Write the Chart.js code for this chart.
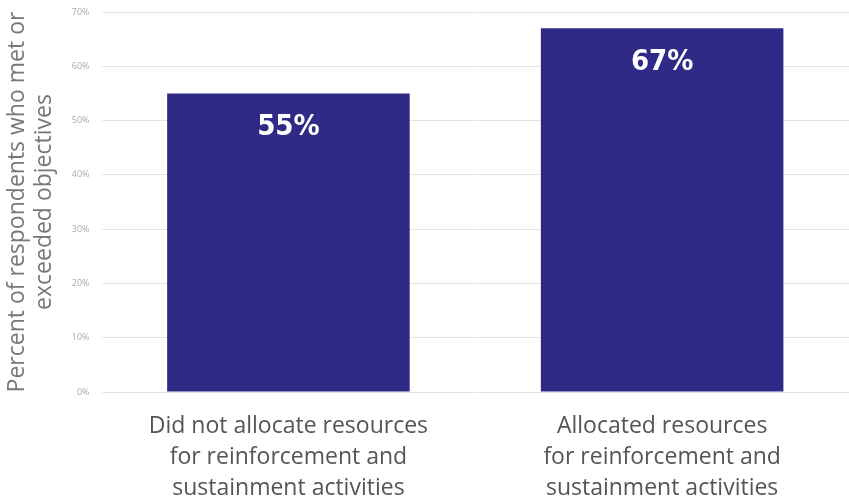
<!DOCTYPE html>
<html>
<head>
<meta charset="utf-8">
<script src="https://cdn.jsdelivr.net/npm/chart.js@4"></script>
<style>
  body { margin: 0; background: #fff; }
  .wrap { width: 849px; height: 502px; }
</style>
</head>
<body>
<div class="wrap"><canvas id="myChart"></canvas></div>
<script>
const categories = [
  ["Did not allocate resources", "for reinforcement and", "sustainment activities"],
  ["Allocated resources", "for reinforcement and", "sustainment activities"],
];
const values = [55, 67];
const yTitle = ["Percent of respondents who met or", "exceeded objectives"];

// white labels inside the top of each bar
const barLabels = {
  id: "barLabels",
  afterDatasetsDraw(chart) {
    const ctx = chart.ctx;
    const meta = chart.getDatasetMeta(0);
    ctx.save();
    ctx.fillStyle = "#fff";
    ctx.font = "bold 29px 'DejaVu Sans Condensed', 'DejaVu Sans'";
    ctx.textAlign = "center";
    ctx.textBaseline = "middle";
    meta.data.forEach((bar, i) => {
      ctx.fillText(values[i] + "%", bar.x, bar.y + 34);
    });
    ctx.restore();
  },
};

const chartElement = document.getElementById("myChart");
const myChart = new Chart(chartElement, {
  type: "bar",
  data: {
    labels: categories,
    datasets: [
      {
        data: values,
        backgroundColor: "#2f2a85",
        categoryPercentage: 1,
        barPercentage: 0.649,
      },
    ],
  },
  options: {
    responsive: true,
    maintainAspectRatio: false,
    animation: false,
    layout: { padding: { left: 4, right: 0, top: 12, bottom: 0 } },
    plugins: {
      legend: { display: false },
      tooltip: { enabled: false },
    },
    scales: {
      x: {
        grid: { display: false },
        border: { display: false },
        afterFit: (axis) => {
          axis.height = 110;
        },
        ticks: {
          color: "#555",
          font: { family: "'Open Sans'", size: 23, lineHeight: 1.35 },
          padding: 11,
          maxRotation: 0,
        },
      },
      y: {
        min: 0,
        max: 70,
        border: { display: false },
        grid: { color: "#e4e4e4", drawTicks: false },
        afterFit: (axis) => {
          axis.paddingTop = 0;
        },
        ticks: {
          stepSize: 10,
          color: "#aaa",
          font: { family: "'Open Sans'", size: 9 },
          padding: 12,
          callback: (v) => v + "%",
        },
        title: {
          display: true,
          text: yTitle,
          color: "#777",
          font: { family: "'Open Sans'", size: 23, lineHeight: 1.17 },
          padding: { top: 0, bottom: 2 },
        },
      },
    },
  },
  plugins: [barLabels],
});
</script>
</body>
</html>
